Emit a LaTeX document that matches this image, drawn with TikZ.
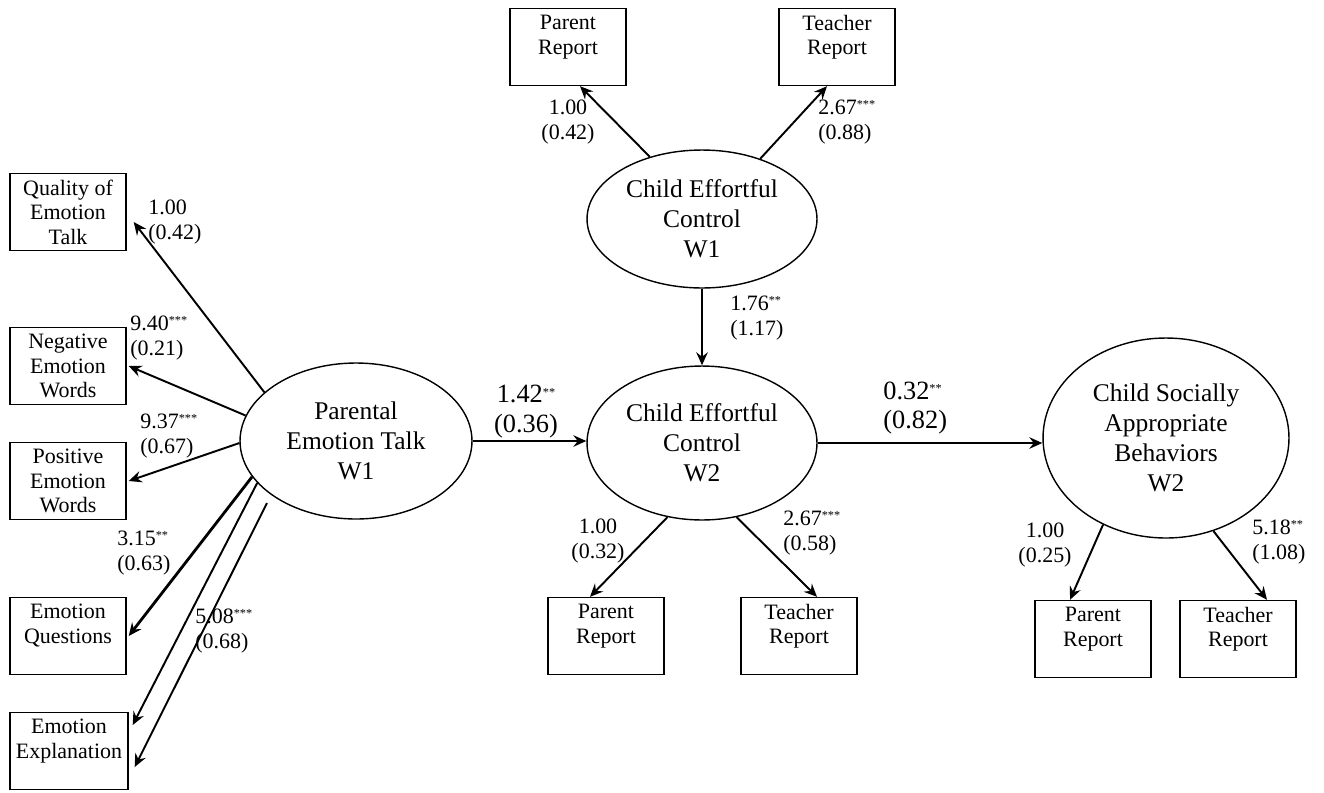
\documentclass[tikz,border=0pt]{standalone}
\usepackage{fontspec}
\setmainfont{Liberation Serif}
\usetikzlibrary{arrows.meta,shapes.geometric,calc}
\newcommand\sig[1]{\raisebox{0.55ex}{\fontsize{7}{7}\selectfont #1}}
\begin{document}
\begin{tikzpicture}[x=0.02cm,y=-0.02cm,
  obs/.style={draw,line width=0.8pt,minimum width=116\pgflinewidth,rectangle,inner sep=0pt,
     minimum width=2.32cm,minimum height=1.54cm,align=center,
     font=\fontsize{12.5}{14}\selectfont},
  lat/.style={draw,line width=0.8pt,ellipse,inner sep=0pt,align=center,
     font=\fontsize{14.5}{17}\selectfont},
  path/.style={line width=1.1pt,-{Stealth[length=2.6mm,width=2.3mm,inset=0.9mm]}},
  lab/.style={align=left,inner sep=0pt,font=\fontsize{12.5}{14.2}\selectfont},
  labc/.style={align=center,inner sep=0pt,font=\fontsize{12.5}{14.2}\selectfont},
  big/.style={align=center,inner sep=0pt,font=\fontsize{15}{17}\selectfont}]
\useasboundingbox[fill=white] (0,0) rectangle (1324,792);
% left indicators
\node[obs] (q) at (68,212) {Quality of\\Emotion\\Talk};
\node[obs] (neg) at (68,366) {Negative\\Emotion\\Words};
\node[obs] (pos) at (68,481) {Positive\\Emotion\\Words};
\node[obs] (eq) at (68,636) {Emotion\\Questions\\~};
\node[obs,minimum width=2.36cm] (ee) at (69,751) {Emotion\\Explanation\\~};
% latent variables
\node[lat,minimum width=232\pgflinewidth,minimum width=4.64cm,minimum height=3.12cm] (pet) at (356,441) {Parental\\Emotion Talk\\W1};
\node[lat,minimum width=4.6cm,minimum height=2.76cm] (cec1) at (702,219) {Child Effortful\\Control\\W1};
\node[lat,minimum width=4.6cm,minimum height=3.08cm] (cec2) at (702,443) {Child Effortful\\Control\\W2};
\node[lat,minimum width=4.92cm,minimum height=4.0cm] (csab) at (1166,438) {Child Socially\\Appropriate\\Behaviors\\W2};
% other indicators
\node[obs] (pr1) at (568,47) {Parent\\Report\\~};
\node[obs] (tr1) at (837,47) {Teacher\\Report\\~};
\node[obs] (pr2) at (606,636) {Parent\\Report\\~};
\node[obs] (tr2) at (799,636) {Teacher\\Report\\~};
\node[obs] (pr3) at (1093,639) {Parent\\Report\\~};
\node[obs] (tr3) at (1238,639) {Teacher\\Report\\~};
\coordinate (ee2s) at (267,503);
% left paths
\draw[path] (pet.152) -- ($(q.east)+(7,10)$);
\draw[path] (pet.167.6) -- ($(neg.east)+(2,0)$);
\draw[path] (pet.181) -- ($(pos.east)+(2,0)$);
\draw[path,line width=1.6pt] (pet.199) -- ($(eq.east)+(2,0)$);
\draw[path] (pet.203) -- ($(ee.east)+(4,-26)$);
\draw[path] (ee2s) -- ($(ee.east)+(6,16)$);
% structural paths
\draw[path] (pet.east) -- (pet.east -| cec2.west);
\draw[path] (cec2.east) -- (cec2.east -| csab.west);
\draw[path] (cec1.south) -- (cec2.north);
% indicator paths
\draw[path] (cec1.130) -- ($(pr1.south)+(12,0)$);
\draw[path] (cec1.46.5) -- ($(tr1.south)+(-10,0)$);
\draw[path] (cec2.245) -- ($(pr2.north)+(-16,0)$);
\draw[path] (cec2.295) -- ($(tr2.north)+(18,0)$);
\draw[path] (csab.234) -- ($(pr3.north)+(-23,0)$);
\draw[path] (csab.297) -- ($(tr3.north)+(29,0)$);
% labels
\node[lab,anchor=west] (l1) at (148,222) {1.00\\(0.42)};
\node[lab,anchor=west] (l2) at (130,338) {9.40\sig{***}\\(0.21)};
\node[lab,anchor=west] (l3) at (140,436) {9.37\sig{***}\\(0.67)};
\node[lab,anchor=west] (l4) at (117,553) {3.15\sig{**}\\(0.63)};
\node[lab,anchor=west] (l5) at (195,631) {5.08\sig{***}\\(0.68)};
\node[labc] (l6) at (568,122) {1.00\\(0.42)};
\node[lab,anchor=west] (l7) at (818,122) {2.67\sig{***}\\(0.88)};
\node[lab,anchor=west] (l8) at (730,318) {1.76\sig{**}\\(1.17)};
\node[big] (l9) at (526,412) {1.42\sig{**}\\(0.36)};
\node[big,anchor=west,align=left] (l10) at (883,408) {0.32\sig{**}\\(0.82)};
\node[labc] (l11) at (598,541) {1.00\\(0.32)};
\node[lab,anchor=west] (l12) at (783,533) {2.67\sig{***}\\(0.58)};
\node[labc] (l13) at (1045,545) {1.00\\(0.25)};
\node[lab,anchor=west] (l14) at (1252,542) {5.18\sig{**}\\(1.08)};
\end{tikzpicture}
\end{document}
